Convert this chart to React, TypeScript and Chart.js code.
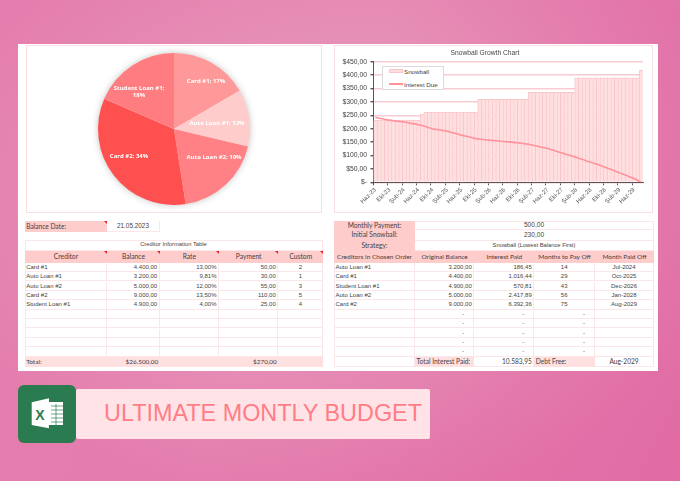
import React, { useEffect, useRef } from "react";
import { Chart, registerables } from "chart.js";

Chart.register(...registerables);

const CREDITORS = ["Card #1", "Auto Loan #1", "Auto Loan #2", "Card #2", "Student Loan #1"];
const BALANCES = ["4.400,00", "3.200,00", "5.000,00", "9.000,00", "4.900,00"];
const RATES = ["13,00%", "9,81%", "12,00%", "13,50%", "4,00%"];
const PAYMENTS = ["50,00", "30,00", "55,00", "110,00", "25,00"];
const CUSTOM = ["2", "1", "3", "5", "4"];

const PIE_VALUES = [4400, 3200, 5000, 9000, 4900];
const PIE_COLORS = ["#FF9999", "#FFCCCC", "#FF8085", "#FF5050", "#FF7C80"];
const PIE_LABEL_LINES = [["Card #1; 17%"], ["Auto Loan #1; 12%"], ["Auto Loan #2; 19%"], ["Card #2; 34%"], ["Student Loan #1;", "18%"]];
const PIE_LABEL_OFFSETS = [[32, -48], [43, -6], [40, 28], [-45, 27], [-35, -37]];

const ORDERED = ["Auto Loan #1", "Card #1", "Student Loan #1", "Auto Loan #2", "Card #2"];
const ORIGINAL = ["3.200,00", "4.400,00", "4.900,00", "5.000,00", "9.000,00"];
const INTEREST = ["186,45", "1.016,44", "570,81", "2.417,89", "6.392,36"];
const MONTHS_TO_PAY = ["14", "29", "43", "56", "75"];
const PAID_OFF = ["Jul-2024", "Oct-2025", "Dec-2026", "Jan-2028", "Aug-2029"];

const MONTHS = ["Oca", "Şub", "Mar", "Nis", "May", "Haz", "Tem", "Ağu", "Eyl", "Eki", "Kas", "Ara"];
const SNOWBALL = [
  232, 232, 232, 232, 232, 232, 232, 232, 232, 232, 232, 232, 232, 255,
  262, 262, 262, 262, 262, 262, 262, 262, 262, 262, 262, 262, 262, 262, 262,
  310, 310, 310, 310, 310, 310, 310, 310, 310, 310, 310, 310, 310, 310,
  336, 336, 336, 336, 336, 336, 336, 336, 336, 336, 336, 336, 336,
  390, 390, 390, 390, 390, 390, 390, 390, 390, 390, 390, 390, 390, 390, 390, 390, 390, 390,
  419,
];
const INTEREST_DUE = [
  242, 239, 237, 234, 232, 230, 228, 227, 225, 223, 220, 218, 215, 212, 208, 204,
  199, 197, 195, 193, 191, 187, 184, 180, 176, 173, 170, 166, 163, 161, 160, 158,
  157, 156, 155, 153, 152, 151, 150, 148, 147, 145, 143, 141, 138, 135, 132, 129,
  126, 122, 118, 113, 109, 105, 101, 97, 93, 88, 84, 79, 75, 70, 66, 61,
  56, 51, 46, 40, 35, 30, 25, 19, 14, 7, 0,
];
const START_YEAR = 2023;
const START_MONTH = 5;
const CATEGORIES = SNOWBALL.map((_, i) => {
  const m = START_MONTH + i;
  return `${MONTHS[m % 12]}-${String((START_YEAR + Math.floor(m / 12)) % 100).padStart(2, "0")}`;
});

const LINE = "#FBE7EA";
const HEAD = "#FFCCCC";
const SOFT = "#FFE0E0";
const TEXT = "#453f41";
const HEAD_FONT = "Lato, sans-serif";
const BODY_FONT = "'Liberation Sans', sans-serif";

const LEFT_COLS = [24.7, 107.3, 159.7, 219, 278.3, 323.3];
const RIGHT_COLS = [334, 415, 474.3, 534.3, 595, 654];

function Cell(p: { x: number; y: number; w: number; h: number; bg?: string; align?: string; size?: number; font?: string; pad?: number; corner?: boolean; border?: boolean; children?: any }) {
  const { x, y, w, h, bg, align = "left", size = 6, font = BODY_FONT, pad = 1.5, corner, border = true, children } = p;
  return (
    <div style={{
      position: "absolute", left: x, top: y, width: w, height: h, boxSizing: "border-box", background: bg,
      borderRight: border ? `1px solid ${LINE}` : undefined, borderBottom: border ? `1px solid ${LINE}` : undefined,
      textAlign: align as any, fontFamily: font, fontSize: size,
      lineHeight: `${h - 1}px`, color: TEXT, paddingLeft: pad, paddingRight: pad, whiteSpace: "nowrap", overflow: "hidden",
    }}>
      {children}
      {corner ? <div style={{ position: "absolute", right: 0, top: 0, width: 0, height: 0, borderTop: "3px solid #E8202A", borderLeft: "3px solid transparent" }} /> : null}
    </div>
  );
}

const ROW_TOP = 262.7;
const ROW_H = 9.4;
const ROWS = 10;
const rowY = (i: number) => ROW_TOP + i * ROW_H;

function App() {
  const pieRef = useRef<HTMLCanvasElement>(null);
  const growthRef = useRef<HTMLCanvasElement>(null);

  useEffect(() => {
    const pieDecor = {
      id: "pieDecor",
      beforeDatasetsDraw(chart: any) {
        const a = chart.getDatasetMeta(0).data[0];
        const ctx = chart.ctx;
        ctx.save();
        ctx.shadowColor = "rgba(90,90,90,0.4)";
        ctx.shadowBlur = 7;
        ctx.fillStyle = "#fff";
        ctx.beginPath();
        ctx.arc(a.x, a.y, a.outerRadius - 0.5, 0, Math.PI * 2);
        ctx.fill();
        ctx.restore();
      },
      afterDatasetsDraw(chart: any) {
        const ctx = chart.ctx;
        ctx.save();
        ctx.fillStyle = "#fff";
        ctx.font = "bold 6px 'Open Sans', sans-serif";
        ctx.textAlign = "center";
        ctx.textBaseline = "middle";
        chart.getDatasetMeta(0).data.forEach((a: any, i: number) => {
          const x = a.x + PIE_LABEL_OFFSETS[i][0];
          const y = a.y + PIE_LABEL_OFFSETS[i][1];
          const lines = PIE_LABEL_LINES[i];
          lines.forEach((t, k) => ctx.fillText(t, x, y + (k - (lines.length - 1) / 2) * 7.5));
        });
        ctx.restore();
      },
    };

    const pie = new Chart(pieRef.current as HTMLCanvasElement, {
      type: "pie",
      data: { labels: CREDITORS, datasets: [{ data: PIE_VALUES, backgroundColor: PIE_COLORS, borderWidth: 0 }] },
      options: {
        animation: false, responsive: false, devicePixelRatio: 1,
        layout: { padding: 8 },
        plugins: { legend: { display: false }, tooltip: { enabled: false } },
      },
      plugins: [pieDecor],
    } as any);

    const growth = new Chart(growthRef.current as HTMLCanvasElement, {
      type: "bar",
      data: {
        labels: CATEGORIES,
        datasets: [
          {
            type: "line", label: "Interest Due", data: INTEREST_DUE, borderColor: "#FF929C", borderWidth: 1.6,
            pointRadius: 0, tension: 0.3, order: 0,
          },
          {
            type: "bar", label: "Snowball", data: SNOWBALL, backgroundColor: "#FFE0E1", borderColor: "#FAC4C8",
            borderWidth: { left: 1, right: 0, top: 1, bottom: 0 }, borderSkipped: false,
            barPercentage: 1, categoryPercentage: 1, order: 1,
          },
        ],
      },
      options: {
        animation: false, responsive: false, devicePixelRatio: 1,
        layout: { padding: { left: 0, right: 10, top: 0, bottom: 0 } },
        plugins: {
          legend: { display: false }, tooltip: { enabled: false },
          title: {
            display: true, text: "Snowball Growth Chart", color: "#444",
            font: { family: "'Liberation Sans', sans-serif", size: 6.7, weight: "normal" }, padding: { top: 4.5, bottom: 4.2 },
          },
        },
        scales: {
          x: {
            offset: true,
            afterFit: (s: any) => { s.height = 30.7; },
            grid: {
              offset: true, drawOnChartArea: false, tickLength: 3,
              tickColor: (c: any) => (c.index % 4 === 0 ? "#555" : "transparent"),
            },
            border: { color: "#555", width: 1 },
            ticks: {
              autoSkip: false, minRotation: 45, maxRotation: 45, padding: 1, color: "#555",
              font: { family: "'Liberation Sans', sans-serif", size: 6 },
              callback: (_v: any, i: number) => (i % 4 === 0 ? CATEGORIES[i] : ""),
            },
          },
          y: {
            min: 0, max: 450,
            afterFit: (s: any) => { s.width = 46.5; },
            grid: { color: "#F9CBD3", lineWidth: 1.4, tickLength: 3, tickColor: "#555" },
            border: { color: "#555", width: 1 },
            ticks: {
              stepSize: 50, padding: 3.5, color: "#444",
              font: { family: "'Liberation Sans', sans-serif", size: 6.8 },
              callback: (v: any) => (v === 0 ? "$-" : `$${Number(v).toFixed(2).replace(".", ",")}`),
            },
          },
        },
      },
    } as any);

    return () => { pie.destroy(); growth.destroy(); };
  }, []);

  const leftRow = (i: number) => {
    const c = LEFT_COLS;
    const vals = [CREDITORS[i], BALANCES[i], RATES[i], PAYMENTS[i], CUSTOM[i]];
    const aligns = ["left", "right", "right", "right", "center"];
    return vals.map((v, k) => (
      <Cell key={`l${i}-${k}`} x={c[k]} y={rowY(i)} w={c[k + 1] - c[k]} h={ROW_H} align={aligns[k]}>{v}</Cell>
    ));
  };

  const rightRow = (i: number) => {
    const c = RIGHT_COLS;
    const has = i < ORDERED.length;
    const vals = has ? [ORDERED[i], ORIGINAL[i], INTEREST[i], MONTHS_TO_PAY[i], PAID_OFF[i]] : ["", "-", "-", "-", ""];
    const aligns = has ? ["left", "right", "right", "center", "center"] : ["left", "right", "right", "right", "center"];
    return vals.map((v, k) => (
      <Cell key={`r${i}-${k}`} x={c[k]} y={rowY(i)} w={c[k + 1] - c[k]} h={ROW_H} align={aligns[k]}
        pad={!has && k > 0 ? 9 : 1.5}>{v}</Cell>
    ));
  };

  const leftHeads = ["Creditor", "Balance", "Rate", "Payment", "Custom"];
  const rightHeads = ["Creditors in Chosen Order", "Original Balance", "Interest Paid", "Months to Pay Off", "Month Paid Off"];
  const rightTop = [["Monthly Payment:", "500,00"], ["Initial Snowball:", "230,00"], ["Strategy:", "Snowball (Lowest Balance First)"]];
  const rightTopY = [220.7, 230.3, 240.7, 250.7];

  return (
    <div style={{
      position: "absolute", left: 0, top: 0, width: 680, height: 481, overflow: "hidden",
      background: "radial-gradient(ellipse 420px 300px at 340px 200px, #EAA6C2 0%, #E68FB6 55%, #E47DAE 100%)",
    }}>
      <div style={{ position: "absolute", left: 0, top: 0, width: 680, height: 481, background: "linear-gradient(115deg, rgba(232,125,172,0.15) 0%, rgba(232,160,190,0) 45%, rgba(222,90,155,0.5) 100%)" }} />
      <div style={{ position: "absolute", left: 18, top: 44, width: 640, height: 327, background: "#fff" }} />

      <div style={{ position: "absolute", left: 26, top: 45, width: 296, height: 168, boxSizing: "border-box", border: "1px solid #F9DEE3" }} />
      <canvas ref={pieRef} width={296} height={168} style={{ position: "absolute", left: 26, top: 45 }} />

      <div style={{ position: "absolute", left: 334, top: 45, width: 319, height: 168, boxSizing: "border-box", border: "1px solid #F9DEE3" }} />
      <canvas ref={growthRef} width={326} height={168} style={{ position: "absolute", left: 327, top: 45 }} />

      <div style={{ position: "absolute", left: 382, top: 65.7, width: 62, height: 24.5, boxSizing: "border-box", background: "#fff", border: "1px solid #DEDADC", fontFamily: "'Liberation Sans', sans-serif", fontSize: 6.2, color: "#444" }}>
        <div style={{ position: "absolute", left: 6, top: 2.6, width: 13.7, height: 4, boxSizing: "border-box", background: "#FFE0E1", border: "0.5px solid #FAC4C8" }} />
        <div style={{ position: "absolute", left: 21, top: 0.5, lineHeight: "9px" }}>Snowball</div>
        <div style={{ position: "absolute", left: 6, top: 16.8, width: 14, height: 1.5, background: "#FF929C" }} />
        <div style={{ position: "absolute", left: 21, top: 13.1, lineHeight: "9px" }}>Interest Due</div>
      </div>

      <div style={{ position: "absolute", left: 24.7, top: 240, width: 298.6, height: 126.7, boxSizing: "border-box", border: `1px solid ${LINE}` }} />
      <div style={{ position: "absolute", left: 334, top: 220.7, width: 320, height: 146, boxSizing: "border-box", border: `1px solid ${LINE}` }} />

      <Cell x={24.7} y={220.7} w={82.6} h={11} bg={HEAD} size={6.6} font={HEAD_FONT} corner border={false}>Balance Date:</Cell>
      <Cell x={107.3} y={220.7} w={52.4} h={11} align="center" size={6.4}>21.05.2023</Cell>

      <Cell x={24.7} y={240} w={298.6} h={10.7} align="center" size={5.8}>Creditor Information Table</Cell>
      {leftHeads.map((t, k) => (
        <Cell key={t} x={LEFT_COLS[k]} y={250.7} w={LEFT_COLS[k + 1] - LEFT_COLS[k]} h={12} bg={HEAD} align="center" size={6.7} font={HEAD_FONT} corner border={false}>{t}</Cell>
      ))}
      {Array.from({ length: ROWS }).map((_, i) => (i < CREDITORS.length ? leftRow(i) : LEFT_COLS.slice(0, 5).map((x, k) => (
        <Cell key={`le${i}-${k}`} x={x} y={rowY(i)} w={LEFT_COLS[k + 1] - x} h={ROW_H} />
      ))))}
      <Cell x={24.7} y={356.7} w={82.6} h={10} bg={SOFT} size={6.5} font={HEAD_FONT} border={false}>Total:</Cell>
      <Cell x={107.3} y={356.7} w={52.4} h={10} bg={SOFT} align="right" size={6.4} font={HEAD_FONT} border={false}>$26.500,00</Cell>
      <Cell x={159.7} y={356.7} w={59.3} h={10} bg={SOFT} border={false} />
      <Cell x={219} y={356.7} w={59.3} h={10} bg={SOFT} align="right" size={6.4} font={HEAD_FONT} border={false}>$270,00</Cell>
      <Cell x={278.3} y={356.7} w={45} h={10} bg={SOFT} border={false} />

      {rightTop.map((r, i) => (
        <React.Fragment key={r[0]}>
          <Cell x={334} y={rightTopY[i]} w={81} h={rightTopY[i + 1] - rightTopY[i]} bg={HEAD} align="center" size={6.7} font={HEAD_FONT} border={false}>{r[0]}</Cell>
          <Cell x={415} y={rightTopY[i]} w={239} h={rightTopY[i + 1] - rightTopY[i]} align="center" size={i === 2 ? 5.8 : 6.6}>{r[1]}</Cell>
        </React.Fragment>
      ))}
      {rightHeads.map((t, k) => (
        <Cell key={t} x={RIGHT_COLS[k]} y={250.7} w={RIGHT_COLS[k + 1] - RIGHT_COLS[k]} h={12} bg={HEAD} align="center" size={6.5} font={HEAD_FONT} pad={0} border={false}>{t}</Cell>
      ))}
      {Array.from({ length: ROWS }).map((_, i) => rightRow(i))}
      <Cell x={334} y={356.7} w={81} h={10} />
      <Cell x={415} y={356.7} w={59.3} h={10} bg={SOFT} size={6.6} font={HEAD_FONT} border={false}>Total Interest Paid:</Cell>
      <Cell x={474.3} y={356.7} w={60} h={10} align="right" size={6.6} font={HEAD_FONT}>10.583,95</Cell>
      <Cell x={534.3} y={356.7} w={60.7} h={10} bg={SOFT} size={6.6} font={HEAD_FONT} border={false}>Debt Free:</Cell>
      <Cell x={595} y={356.7} w={59} h={10} align="center" size={6.6} font={HEAD_FONT}>Aug-2029</Cell>

      <div style={{ position: "absolute", left: 76, top: 389, width: 354, height: 49.5, background: "#FFE3E6", borderRadius: 2 }} />
      <div style={{ position: "absolute", left: 104, top: 389, height: 49.5, lineHeight: "49px", fontFamily: "'Liberation Sans', sans-serif", fontSize: 23.4, color: "#FF7D87", whiteSpace: "nowrap" }}>ULTIMATE MONTLY BUDGET</div>

      <div style={{ position: "absolute", left: 18, top: 385, width: 58, height: 58, background: "#2A7B4F", borderRadius: 6 }}>
        <svg width={58} height={58} viewBox="0 0 58 58" style={{ position: "absolute", left: 0, top: 0 }}>
          <rect x={31} y={17} width={14} height={23} fill="#fff" />
          <g stroke="#2A7B4F" strokeWidth={0.7}>
            <line x1={33} y1={21} x2={45} y2={21} /><line x1={33} y1={25} x2={45} y2={25} /><line x1={33} y1={29} x2={45} y2={29} /><line x1={33} y1={33} x2={45} y2={33} /><line x1={33} y1={37} x2={45} y2={37} />
            <line x1={38} y1={19} x2={38} y2={40} />
          </g>
          <path d="M13.7 17.3 L31 13.3 L31 43.3 L13.7 40 Z" fill="#fff" />
          <text x={22} y={35} textAnchor="middle" fontFamily="'Liberation Sans', sans-serif" fontWeight="bold" fontSize={14} fill="#2A7B4F">X</text>
        </svg>
      </div>
    </div>
  );
}

export default App;
